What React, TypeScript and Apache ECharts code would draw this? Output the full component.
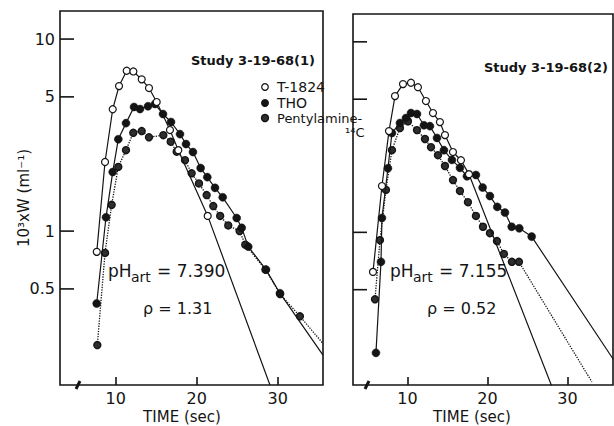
import React, { useEffect, useRef } from "react";
import * as echarts from "echarts";

const FONT = '"DejaVu Sans", Verdana, sans-serif';
const INK = "#141414";

// Axis extents (time in sec, 10^3 x W on a log scale)
const timeRange1 = [3.12, 35.6];
const timeRange2 = [3.19, 35.7];
const wRange = [0.158, 14];

const timeTicks = [10, 20, 30];
const wTicks = [0.5, 1, 5, 10];
const wTickLabels = ["0.5", "1", "5", "10"];

// Study 3-19-68 (1): [time (sec), 10^3 x W (ml^-1)]
const t1824Run1 = [
  [7.66, 0.78], [8.68, 2.29], [9.63, 4.31], [10.41, 5.69], [11.36, 6.84],
  [12.18, 6.78], [13.21, 6.17], [14.11, 5.56], [15.06, 4.7], [16.7, 3.36],
  [17.73, 2.64], [21.36, 1.2],
];
const t1824Run1Decay = [29.05, 0.158];

const thoRun1 = [
  [7.65, 0.42], [8.8, 1.18], [9.63, 2.03], [10.32, 3.01], [11.27, 3.65],
  [12.26, 4.43], [13.0, 4.32], [13.99, 4.47], [14.85, 4.59], [15.84, 4.07],
  [16.83, 3.7], [17.94, 3.2], [18.68, 2.84], [19.54, 2.58], [20.49, 2.13],
  [21.31, 1.91], [22.26, 1.68], [23.21, 1.5], [24.94, 1.17], [25.56, 1.04],
  [26.37, 0.83], [28.56, 0.63], [30.28, 0.475],
];
const thoRun1Decay = [35.6, 0.226];

const pentylRun1 = [
  [7.73, 0.255], [8.68, 0.77], [9.5, 1.37], [10.32, 2.16], [11.27, 2.64],
  [12.17, 3.25], [13.21, 3.32], [14.11, 3.08], [15.88, 3.16], [16.79, 2.92],
  [17.53, 2.59], [18.56, 2.34], [19.38, 2.0], [20.28, 1.77], [21.23, 1.54],
  [22.05, 1.35], [22.9, 1.2], [23.9, 1.07], [25.3, 1.0], [26.0, 0.85],
  [28.5, 0.63], [30.3, 0.47], [32.75, 0.36],
];
const pentylRun1Decay = [35.6, 0.26];

// Study 3-19-68 (2)
const t1824Run2 = [
  [5.69, 0.62], [6.81, 1.75], [7.69, 3.4], [8.44, 5.19], [9.44, 6.0],
  [10.44, 6.1], [11.31, 5.78], [12.31, 4.89], [13.19, 4.23], [14.06, 3.79],
  [14.69, 3.24], [15.69, 2.64], [16.69, 2.39], [17.69, 2.02],
];
const t1824Run2Decay = [28.06, 0.155];

const thoRun2 = [
  [6.06, 0.233], [6.69, 0.7], [6.81, 1.19], [7.56, 2.17], [8.06, 3.32],
  [9.06, 3.75], [9.81, 3.98], [10.44, 4.23], [11.19, 4.18], [12.06, 3.65],
  [12.81, 3.61], [13.69, 3.13], [14.56, 2.7], [15.56, 2.4], [16.56, 2.18],
  [17.44, 1.97], [18.56, 2.0], [19.4, 1.72], [20.31, 1.55], [21.23, 1.36],
  [22.19, 1.27], [23.03, 1.07], [23.98, 1.05], [25.53, 0.95],
];
const thoRun2Decay = [35.75, 0.215];

const pentylRun2 = [
  [5.94, 0.445], [6.56, 0.91], [7.31, 1.67], [8.06, 2.7], [9.06, 3.53],
  [10.06, 3.83], [11.19, 3.44], [12.19, 3.09], [12.94, 2.8], [13.81, 2.54],
  [14.69, 2.23], [15.69, 1.88], [16.56, 1.65], [17.56, 1.44], [18.56, 1.22],
  [19.44, 1.07], [20.31, 0.99], [21.19, 0.9], [22.06, 0.77], [23.06, 0.7],
  [23.94, 0.7],
];
const pentylRun2Decay = [33.06, 0.164];

type Kind = "t1824" | "tho" | "pentyl";

const markerStyle: Record<Kind, any> = {
  t1824: { size: 7, item: { color: "#ffffff", borderColor: INK, borderWidth: 1.2 } },
  tho: { size: 8, item: { color: INK, borderColor: INK, borderWidth: 0.5 } },
  pentyl: { size: 7, item: { color: "#2e2e2e", borderColor: INK, borderWidth: 1.4 } },
};

function curve(name: string, panel: number, kind: Kind, pts: number[][], decay: number[]) {
  const data: any[] = pts.map((p) => ({ value: p }));
  data.push({ value: decay, symbol: "none" });
  const m = markerStyle[kind];
  return {
    type: "line",
    name,
    xAxisIndex: panel,
    yAxisIndex: panel,
    data,
    symbol: "circle",
    symbolSize: m.size,
    itemStyle: m.item,
    lineStyle: { color: INK, width: kind === "pentyl" ? 1.3 : 1.2, type: kind === "pentyl" ? "dotted" : "solid" },
    clip: true,
    z: kind === "t1824" ? 4 : kind === "tho" ? 3 : 2,
    emphasis: { disabled: true },
  };
}

// Inward log-axis ticks (and labels on the left panel), placed through the axis scale
function wTickSeries(panel: number, xMin: number, withLabels: boolean) {
  return {
    type: "custom",
    xAxisIndex: panel,
    yAxisIndex: panel,
    silent: true,
    data: wTicks.map((v, i) => [xMin, v, i]),
    renderItem: (_params: any, api: any) => {
      const p = api.coord([api.value(0), api.value(1)]);
      const children: any[] = [
        { type: "line", shape: { x1: p[0], y1: p[1], x2: p[0] + 14, y2: p[1] }, style: { stroke: INK, lineWidth: 1.6 } },
      ];
      if (withLabels) {
        children.push({
          type: "text",
          x: p[0] - 5,
          y: p[1],
          style: {
            text: wTickLabels[api.value(2)],
            align: "right",
            verticalAlign: "middle",
            fontSize: 16,
            fontFamily: FONT,
            fill: INK,
          },
        });
      }
      return { type: "group", children };
    },
  };
}

function timeAxis(panel: number, range: number[]) {
  return {
    type: "value",
    gridIndex: panel,
    min: range[0],
    max: range[1],
    axisLine: { show: false },
    splitLine: { show: false },
    axisTick: { show: true, inside: true, length: 8, customValues: timeTicks, lineStyle: { color: INK, width: 1.6 } },
    axisLabel: { show: true, customValues: timeTicks, margin: 6, fontSize: 16, lineHeight: 15, fontFamily: FONT, color: INK },
  };
}

function wAxis(panel: number) {
  return {
    type: "log",
    logBase: 10,
    gridIndex: panel,
    min: wRange[0],
    max: wRange[1],
    axisLine: { show: false },
    axisTick: { show: false },
    axisLabel: { show: false },
    splitLine: { show: false },
  };
}

function txt(x: number, y: number, text: string, size: number, extra: any = {}, rotation = 0) {
  return {
    type: "text",
    x,
    y,
    rotation,
    silent: true,
    style: { text, fontSize: size, fontFamily: FONT, fill: INK, align: "left", verticalAlign: "middle", ...extra },
  };
}

export default function App() {
  const ref = useRef<HTMLDivElement>(null);

  useEffect(() => {
    if (!ref.current) return;
    const chart = echarts.init(ref.current, null, { renderer: "svg" });
    const gridBase = { show: true, borderColor: INK, borderWidth: 1.6, backgroundColor: "transparent", containLabel: false };

    chart.setOption({
      animation: false,
      backgroundColor: "#ffffff",
      grid: [
        { ...gridBase, left: 60, top: 11, width: 263, height: 374 },
        { ...gridBase, left: 353, top: 14, width: 260, height: 371 },
      ],
      xAxis: [timeAxis(0, timeRange1), timeAxis(1, timeRange2)],
      yAxis: [wAxis(0), wAxis(1)],
      series: [
        curve("Pentylamine-14C", 0, "pentyl", pentylRun1, pentylRun1Decay),
        curve("THO", 0, "tho", thoRun1, thoRun1Decay),
        curve("T-1824", 0, "t1824", t1824Run1, t1824Run1Decay),
        curve("Pentylamine-14C", 1, "pentyl", pentylRun2, pentylRun2Decay),
        curve("THO", 1, "tho", thoRun2, thoRun2Decay),
        curve("T-1824", 1, "t1824", t1824Run2, t1824Run2Decay),
        wTickSeries(0, timeRange1[0], true),
        wTickSeries(1, timeRange2[0], false),
      ],
      graphic: [
        // axis titles
        txt(24, 198, "10³xW (ml⁻¹)", 15, { align: "center" }, Math.PI / 2),
        txt(182, 417, "TIME (sec)", 15, { align: "center", lineHeight: 14 }),
        txt(472, 417, "TIME (sec)", 15, { align: "center", lineHeight: 14 }),
        // panel headings
        txt(253, 60, "Study 3-19-68(1)", 13, { align: "center", fontWeight: "bold" }),
        txt(546, 67, "Study 3-19-68(2)", 13, { align: "center", fontWeight: "bold" }),
        // key
        { type: "circle", shape: { cx: 265, cy: 87, r: 3.3 }, style: { fill: "#fff", stroke: INK, lineWidth: 1.2 } },
        { type: "circle", shape: { cx: 265, cy: 103, r: 4 }, style: { fill: INK } },
        { type: "circle", shape: { cx: 265, cy: 118, r: 3.5 }, style: { fill: "#2e2e2e", stroke: INK, lineWidth: 1.4 } },
        txt(277, 87, "T-1824", 14, { lineHeight: 14 }),
        txt(277, 103, "THO", 14, { lineHeight: 14 }),
        txt(277, 118, "Pentylamine-", 13, { lineHeight: 13 }),
        txt(345, 132, "¹⁴C", 13, { lineHeight: 13 }),
        // blood pH and ratio annotations
        txt(108, 271, "pH", 17),
        txt(131, 277, "art", 14),
        txt(157, 271, "= 7.390", 17),
        txt(143, 308, "ρ = 1.31", 16),
        txt(390, 271, "pH", 17),
        txt(413, 277, "art", 14),
        txt(439, 271, "= 7.155", 17),
        txt(427, 308, "ρ = 0.52", 16),
        // axis break marks
        { type: "line", shape: { x1: 76, y1: 389, x2: 80, y2: 381 }, style: { stroke: INK, lineWidth: 3 } },
        { type: "line", shape: { x1: 365, y1: 389, x2: 369, y2: 381 }, style: { stroke: INK, lineWidth: 3 } },
      ],
    });

    return () => chart.dispose();
  }, []);

  return <div ref={ref} style={{ position: "absolute", left: 0, top: 0, width: 614, height: 426 }} />;
}
